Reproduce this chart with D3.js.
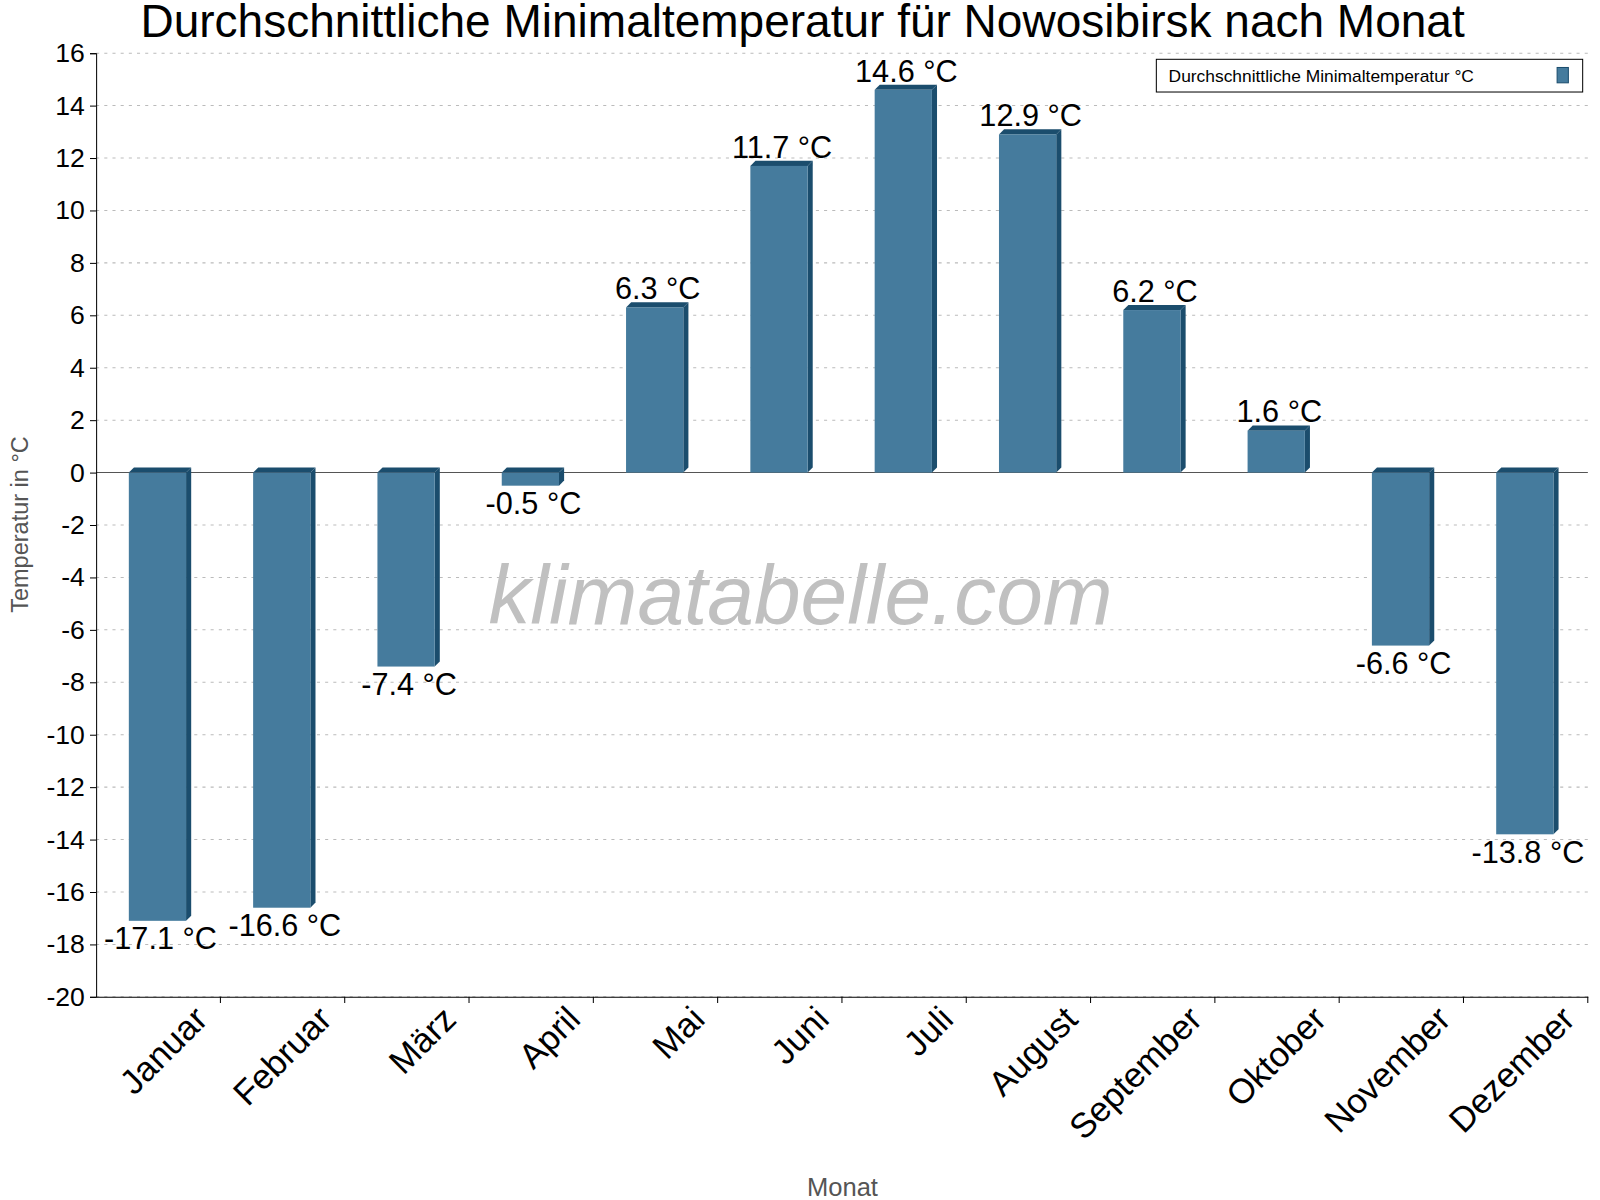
<!DOCTYPE html><html><head><meta charset="utf-8"><script src="https://cdn.jsdelivr.net/npm/d3@7"></script>
<style>body{margin:0;background:#fff}text{font-family:"Liberation Sans",Arial,sans-serif}</style></head><body>
<svg id="c" width="1600" height="1200"></svg>
<script>
const months=["Januar","Februar","März","April","Mai","Juni","Juli","August","September","Oktober","November","Dezember"];
const values=[-17.1,-16.6,-7.4,-0.5,6.3,11.7,14.6,12.9,6.2,1.6,-6.6,-13.8];
const yTicks=d3.range(-20,17,2);
const svg=d3.select("#c").append("g").attr("transform","scale(1.0224)");
const L=94,R=1553,T=52,B=975;
const x=d3.scaleBand().domain(months).range([L,R]);
const y=d3.scaleLinear().domain([-20,16]).range([B,T]);
svg.append("text").attr("x",785).attr("y",36).attr("text-anchor","middle").attr("font-size",45).text("Durchschnittliche Minimaltemperatur für Nowosibirsk nach Monat");
svg.append("g").selectAll("line").data(yTicks).join("line").attr("x1",L).attr("x2",R).attr("y1",d=>y(d)).attr("y2",d=>y(d)).attr("stroke","#bbb").attr("stroke-dasharray","3,5");
svg.append("text").attr("x",783).attr("y",610).attr("text-anchor","middle").attr("font-size",82).attr("font-style","italic").attr("fill","#c0c0c0").text("klimatabelle.com");
svg.append("line").attr("x1",L).attr("x2",R).attr("y1",y(0)).attr("y2",y(0)).attr("stroke","#555");
const ya=svg.append("g").attr("transform",`translate(${L},0)`).call(d3.axisLeft(y).tickValues(yTicks).tickSize(6).tickFormat(d=>String(d)));
ya.selectAll("text").attr("font-size",26).attr("fill","#000").attr("dx",-2);
ya.select(".domain").attr("stroke","#000");
const xa=svg.append("g").attr("transform",`translate(0,${B})`).call(d3.axisBottom(x).tickSize(0).tickFormat(""));
xa.select(".domain").attr("stroke","#000");
svg.append("g").selectAll("line").data(months).join("line").attr("x1",d=>x(d)+x.bandwidth()).attr("x2",d=>x(d)+x.bandwidth()).attr("y1",B).attr("y2",B+6).attr("stroke","#000");
svg.append("g").selectAll("text").data(months).join("text").attr("text-anchor","end").attr("font-size",34)
 .attr("transform",d=>`translate(${x(d)+x.bandwidth()/2+50},${B+24}) rotate(-45)`).text(d=>d);
const bw=56,dp=5,off=32;
const g=svg.append("g");
months.forEach((m,i)=>{const v=values[i];const x0=x(m)+off;const yt=y(Math.max(v,0)),yb=y(Math.min(v,0));
 g.append("path").attr("d",`M${x0+bw},${yt}L${x0+bw+dp},${yt-dp}L${x0+bw+dp},${yb-dp}L${x0+bw},${yb}Z`).attr("fill","#1b4d6d");
 g.append("path").attr("d",`M${x0},${yt}L${x0+dp},${yt-dp}L${x0+bw+dp},${yt-dp}L${x0+bw},${yt}Z`).attr("fill","#1b4d6d");
 g.append("rect").attr("x",x0).attr("y",yt).attr("width",bw).attr("height",Math.max(yb-yt,1)).attr("fill","#457b9d");
 g.append("text").attr("x",x0+bw/2+3).attr("y",v>=0?yt-8:yb+28).attr("text-anchor","middle").attr("font-size",30).text(v.toFixed(1)+" °C");
});
svg.append("text").attr("transform","translate(27,513) rotate(-90)").attr("text-anchor","middle").attr("font-size",23).attr("fill","#555").text("Temperatur in °C");
svg.append("text").attr("x",824).attr("y",1170).attr("text-anchor","middle").attr("font-size",25).attr("fill","#555").text("Monat");
svg.append("rect").attr("x",1131).attr("y",58).attr("width",417).attr("height",32).attr("fill","#fff").attr("stroke","#000");
svg.append("text").attr("x",1143).attr("y",80).attr("font-size",17).text("Durchschnittliche Minimaltemperatur °C");
svg.append("rect").attr("x",1523).attr("y",66).attr("width",11).attr("height",15).attr("fill","#457b9d").attr("stroke","#1b4d6d");
</script></body></html>
